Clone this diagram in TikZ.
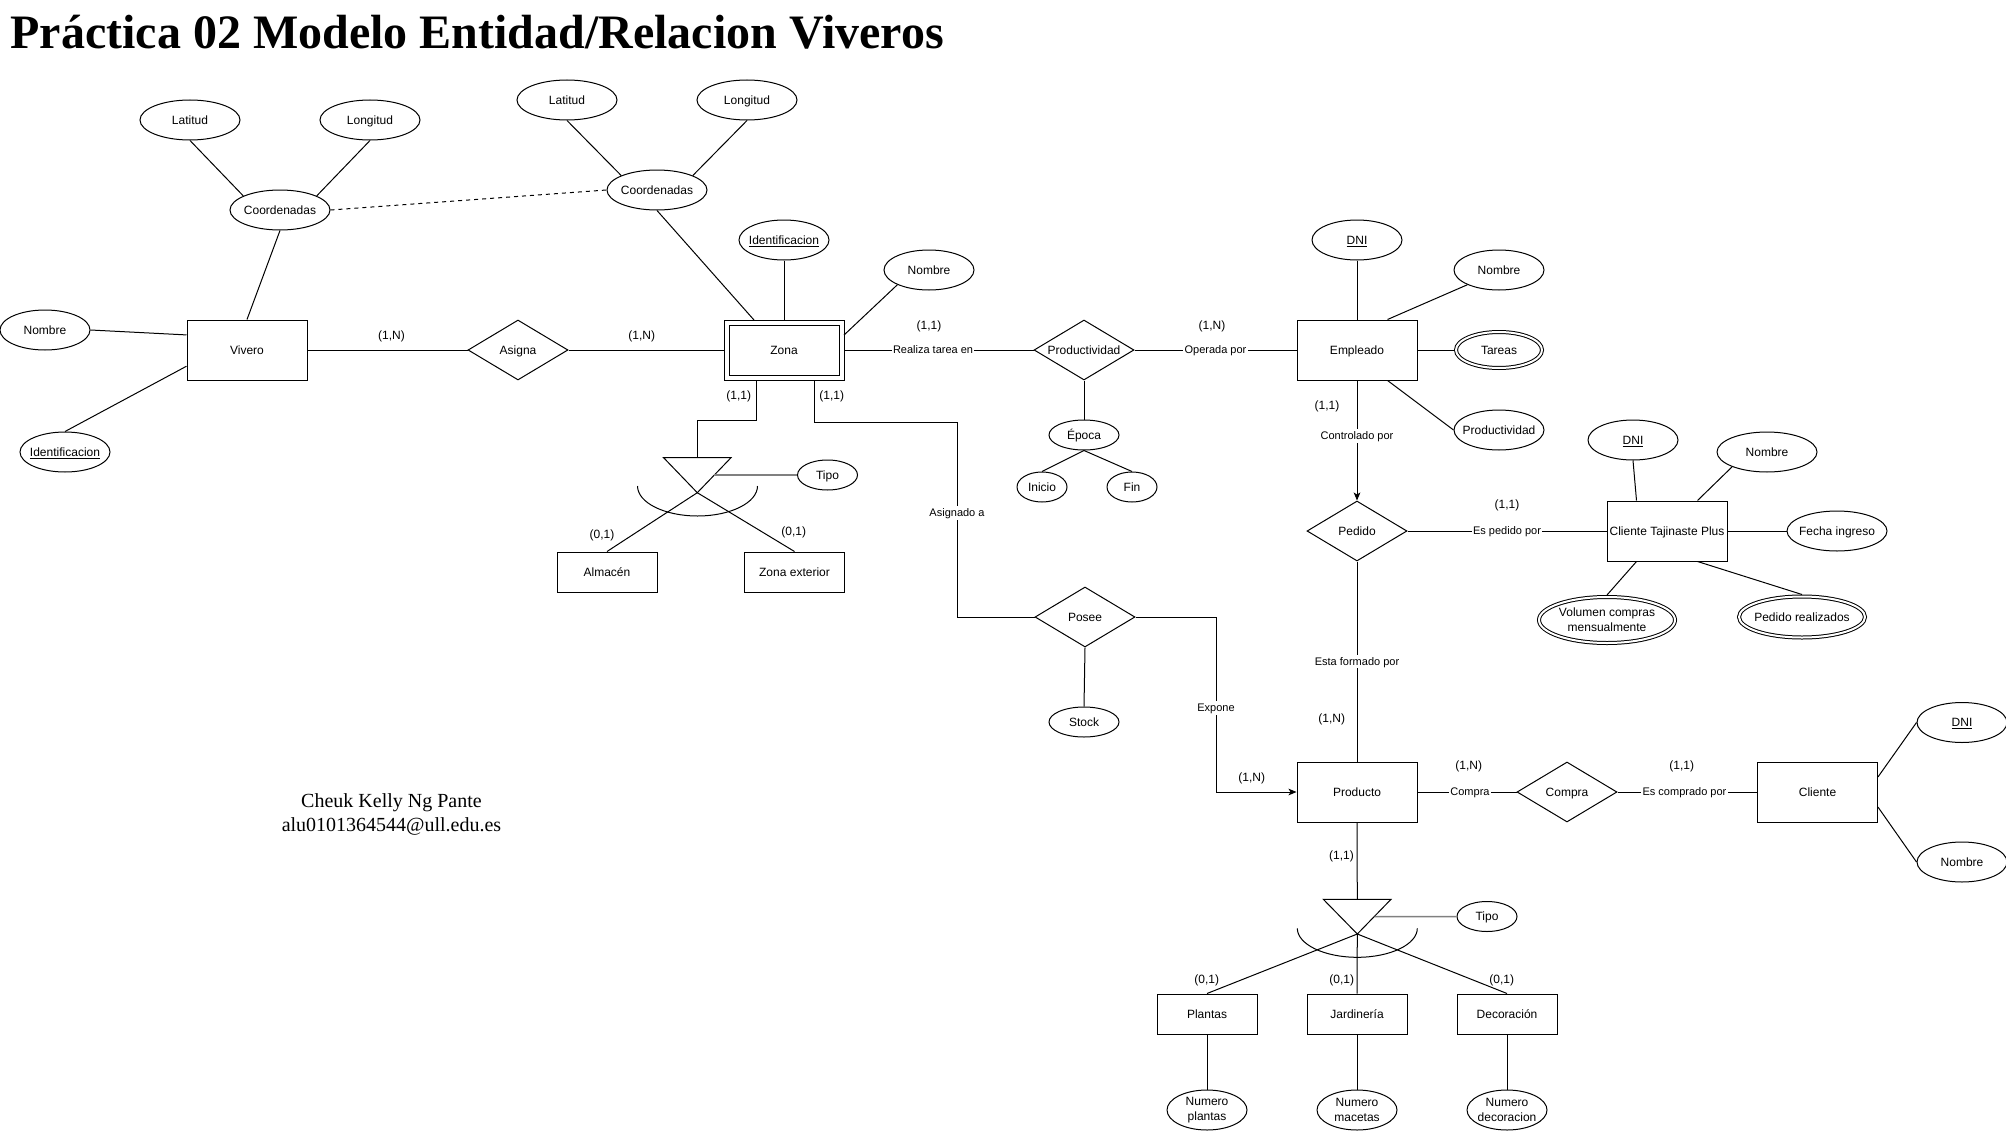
\documentclass[tikz,border=0pt]{standalone}
\usepackage{fontspec}
\setmainfont{Liberation Sans}
\newfontfamily\timesfam{Liberation Serif}
\usepackage{tikz}
\usetikzlibrary{arrows.meta,calc,positioning,shapes.geometric}
\newcommand{\erfont}{\fontsize{9}{11.25}\selectfont}
\newcommand{\lblfont}{\fontsize{8.25}{10}\selectfont}
\tikzset{
  oneline/.style={text height=7.8pt, text depth=1.4pt},
  entity/.style={draw, minimum width=90pt, minimum height=45pt, inner sep=0pt, align=center, font=\erfont, oneline},
  subent/.style={entity, minimum width=75pt, minimum height=30pt},
  weak/.style={entity, double, double distance=3pt, minimum width=86.25pt, minimum height=41.25pt, outer sep=1.875pt},
  rel/.style={draw, diamond, aspect=1.667, minimum width=75pt, minimum height=45pt, inner sep=0pt, font=\erfont, oneline},
  attrml/.style={draw, ellipse, minimum width=67.5pt, minimum height=30pt, inner sep=-5pt, align=center, font=\erfont},
  attr/.style={attrml, oneline},
  mattr/.style={double, double distance=1.5pt, outer sep=1.5pt},
  card/.style={inner sep=0pt, font=\erfont, oneline},
  lbl/.style={fill=white, inner sep=1pt, font=\lblfont, text height=7.1pt, text depth=1.3pt},
  arr/.style={-{Stealth[length=6pt, width=5pt, inset=1.5pt]}},
  tipolink/.style={draw=gray, line width=1.1pt}
}

\begin{document}
\begin{tikzpicture}[x=0.75pt, y=-0.75pt, line width=0.75pt]
  \useasboundingbox[fill=white] (0,0) rectangle (2006,1131);

  \node[anchor=base west, inner sep=0pt, font=\timesfam\bfseries\fontsize{36}{40}\selectfont] (titulo) at (10,48.5) {Práctica 02 Modelo Entidad/Relacion Viveros};
  \node[align=center, font=\timesfam\fontsize{15}{18}\selectfont] (autor) at (391.5,814) {Cheuk Kelly Ng Pante\\alu0101364544@ull.edu.es};

  % entidades
  \node[entity] (vivero) at (247,350) {Vivero};
  \node[weak] (zona) at (784,350) {Zona};
  \node[entity] (empleado) at (1357,350) {Empleado};
  \node[entity] (ctp) at (1667,531) {Cliente Tajinaste Plus};
  \node[entity] (producto) at (1357,792) {Producto};
  \node[entity] (cliente) at (1817.5,792) {Cliente};
  \node[subent] (almacen) at (607,572) {Almacén};
  \node[subent] (zonaext) at (794.5,572) {Zona exterior};
  \node[subent] (plantas) at (1207,1014) {Plantas};
  \node[subent] (jardineria) at (1357,1014) {Jardinería};
  \node[subent] (decoracion) at (1507,1014) {Decoración};

  % relaciones
  \node[rel] (asigna) at (518,350) {Asigna};
  \node[rel] (productividad) at (1084,350) {Productividad};
  \node[rel] (pedido) at (1357,531) {Pedido};
  \node[rel] (posee) at (1085,617) {Posee};
  \node[rel] (compra) at (1567,792) {Compra};

  % atributos
  \node[attr] (vivNombre) at (45,330) {Nombre};
  \node[attr] (vivId) at (65,452) {\underline{Identificacion}};
  \node[attr, minimum width=75pt] (vivCoord) at (280,210) {Coordenadas};
  \node[attr, minimum width=75pt] (vivLat) at (190,120) {Latitud};
  \node[attr, minimum width=75pt] (vivLon) at (370,120) {Longitud};
  \node[attr, minimum width=75pt] (zonCoord) at (657,190) {Coordenadas};
  \node[attr, minimum width=75pt] (zonLat) at (567,100) {Latitud};
  \node[attr, minimum width=75pt] (zonLon) at (747,100) {Longitud};
  \node[attr] (zonId) at (784,240) {\underline{Identificacion}};
  \node[attr] (zonNombre) at (929,270) {Nombre};
  \node[attr, minimum width=52.5pt, minimum height=22.5pt] (epoca) at (1084,435) {Época};
  \node[attr, minimum width=37.5pt, minimum height=22.5pt] (inicio) at (1042,487) {Inicio};
  \node[attr, minimum width=37.5pt, minimum height=22.5pt] (fin) at (1132,487) {Fin};
  \node[attr, minimum width=52.5pt, minimum height=22.5pt] (stock) at (1084,722) {Stock};
  \node[attr] (empDNI) at (1357,240) {\underline{DNI}};
  \node[attr] (empNombre) at (1499,270) {Nombre};
  \node[attr, mattr, minimum width=64.5pt, minimum height=27pt] (empTareas) at (1499,350) {Tareas};
  \node[attr] (empProd) at (1499,430) {Productividad};
  \node[attr] (ctpDNI) at (1633,440) {\underline{DNI}};
  \node[attr, minimum width=75pt] (ctpNombre) at (1767,452) {Nombre};
  \node[attr, minimum width=75pt] (ctpFecha) at (1837,531) {Fecha ingreso};
  \node[attrml, mattr, minimum width=102pt, minimum height=34.5pt] (ctpVol) at (1607,620) {Volumen compras\\mensualmente};
  \node[attr, mattr, minimum width=94.5pt, minimum height=30.75pt] (ctpPed) at (1802,617) {Pedido realizados};
  \node[attr, minimum width=45pt, minimum height=22.5pt] (tipoZ) at (827.5,475) {Tipo};
  \node[attr, minimum width=45pt, minimum height=22.5pt] (tipoP) at (1487,916.5) {Tipo};
  \node[attrml, minimum width=60pt] (numPl) at (1207,1110) {Numero\\plantas};
  \node[attrml, minimum width=60pt] (numMa) at (1357,1110) {Numero\\macetas};
  \node[attrml, minimum width=60pt] (numDe) at (1507,1110) {Numero\\decoracion};
  \node[attr] (cliDNI) at (1962,722.5) {\underline{DNI}};
  \node[attr] (cliNombre) at (1962,862) {Nombre};

  % atributos -> entidades
  \draw (vivLat.south) -- (vivCoord.159);
  \draw (vivLon.south) -- (vivCoord.21);
  \draw (vivCoord.south) -- (vivero.north);
  \draw (vivNombre.east) -- (vivero.166);
  \draw (vivId.north) -- (vivero.195);
  \draw[dashed] (vivCoord.east) -- (zonCoord.west);
  \draw (zonLat.south) -- (zonCoord.158);
  \draw (zonLon.south) -- (zonCoord.22);
  \draw (zonCoord.south) -- (zona.135);
  \draw (zonId.south) -- (zona.north);
  \draw (zonNombre.205) -- (zona.14);
  \draw (productividad.south) -- (epoca.north);
  \draw (epoca.south) -- (inicio.north);
  \draw (epoca.south) -- (fin.north);
  \draw (posee.south) -- (stock.north);
  \draw (empDNI.south) -- (empleado.north);
  \draw (empNombre.205) -- (empleado.45);
  \draw (empleado.east) -- (empTareas.west);
  \draw (empleado.-45) -- (empProd.west);
  \draw (ctpDNI.south) -- (ctp.135);
  \draw (ctpNombre.203) -- (ctp.45);
  \draw (ctp.east) -- (ctpFecha.west);
  \draw (ctp.225) -- (ctpVol.north);
  \draw (ctp.-45) -- (ctpPed.north);
  \draw (cliente.14) -- (cliDNI.west);
  \draw (cliente.-14) -- (cliNombre.west);
  \draw (plantas.south) -- (numPl.north);
  \draw (jardineria.south) -- (numMa.north);
  \draw (decoracion.south) -- (numDe.north);

  % relaciones
  \draw (vivero) -- (asigna);
  \draw (asigna) -- (zona);
  \draw (zona) -- node[lbl, pos=0.47] (tRealiza) {Realiza tarea en} (productividad);
  \draw (productividad) -- node[lbl] (tOperada) {Operada por} (empleado);
  \draw[arr] (empleado) -- node[lbl, pos=0.46] (tControl) {Controlado por} (pedido);
  \draw (pedido) -- node[lbl] (tEsPedido) {Es pedido por} (ctp);
  \draw (pedido) -- node[lbl] (tFormado) {Esta formado por} (producto);
  \draw (producto) -- node[lbl, pos=0.53] (tCompra) {Compra} (compra);
  \draw (compra) -- node[lbl, pos=0.48] (tComprado) {Es comprado por} (cliente);

  \coordinate (asgK) at (957,513);
  \draw (zona.-45) -- ++(0,42) -| (asgK) node[lbl] (tAsignado) {Asignado a} |- (posee.west);
  \coordinate (expK) at (1216,708);
  \draw[arr] (posee.east) -| (expK) node[lbl] (tExpone) {Expone} |- (producto.west);

  % jerarquia de zona
  \coordinate (isaZt) at (697.3,457.7);
  \coordinate (isaZa) at (697.3,492.7);
  \coordinate (isaZk) at (714.2,475);
  \draw (663.6,457.7) -- (731,457.7) -- (isaZa) -- cycle;
  \draw (637.5,486) arc[start angle=180, end angle=360, x radius=45pt, y radius=22.5pt];
  \draw (zona.228) -- ++(0,40) -| (isaZt);
  \draw[tipolink] (isaZk) -- (tipoZ);
  \draw (isaZa) -- (almacen.north);
  \draw (isaZa) -- (zonaext.north);

  % jerarquia de producto
  \coordinate (isaPt) at (1357.3,899.3);
  \coordinate (isaPa) at (1357.3,934);
  \coordinate (isaPk) at (1374.5,916.7);
  \draw (1323.3,899.3) -- (1391,899.3) -- (isaPa) -- cycle;
  \draw (1297.3,928.3) arc[start angle=180, end angle=360, x radius=45pt, y radius=21.75pt];
  \draw (producto.south) -- (isaPt);
  \draw[tipolink] (isaPk) -- (tipoP);
  \draw (isaPa) -- (plantas.north);
  \draw (isaPa) -- (jardineria.north);
  \draw (isaPa) -- (decoracion.north);

  % cardinalidades
  \node[card] (cVivAsg) at (391.5,335) {(1,N)};
  \node[card] (cAsgZon) at (641.7,335) {(1,N)};
  \node[card] (cZonPro) at (929,325) {(1,1)};
  \node[card] (cProEmp) at (1212,325) {(1,N)};
  \node[card] (cZonIsa) at (738.7,395) {(1,1)};
  \node[card] (cZonPos) at (831.7,395) {(1,1)};
  \node[card] (cAlm) at (602,534) {(0,1)};
  \node[card] (cExt) at (793.7,531) {(0,1)};
  \node[card] (cEmpPed) at (1327,405) {(1,1)};
  \node[card] (cPedCtp) at (1507,504) {(1,1)};
  \node[card] (cPedPrd) at (1331.7,718.3) {(1,N)};
  \node[card] (cPosPrd) at (1251.7,777.3) {(1,N)};
  \node[card] (cPrdCom) at (1468.7,765) {(1,N)};
  \node[card] (cComCli) at (1681.7,765) {(1,1)};
  \node[card] (cPrdIsa) at (1341.5,855) {(1,1)};
  \node[card] (cPla) at (1206.7,979) {(0,1)};
  \node[card] (cJar) at (1341.7,979) {(0,1)};
  \node[card] (cDec) at (1501.7,979) {(0,1)};
\end{tikzpicture}
\end{document}
